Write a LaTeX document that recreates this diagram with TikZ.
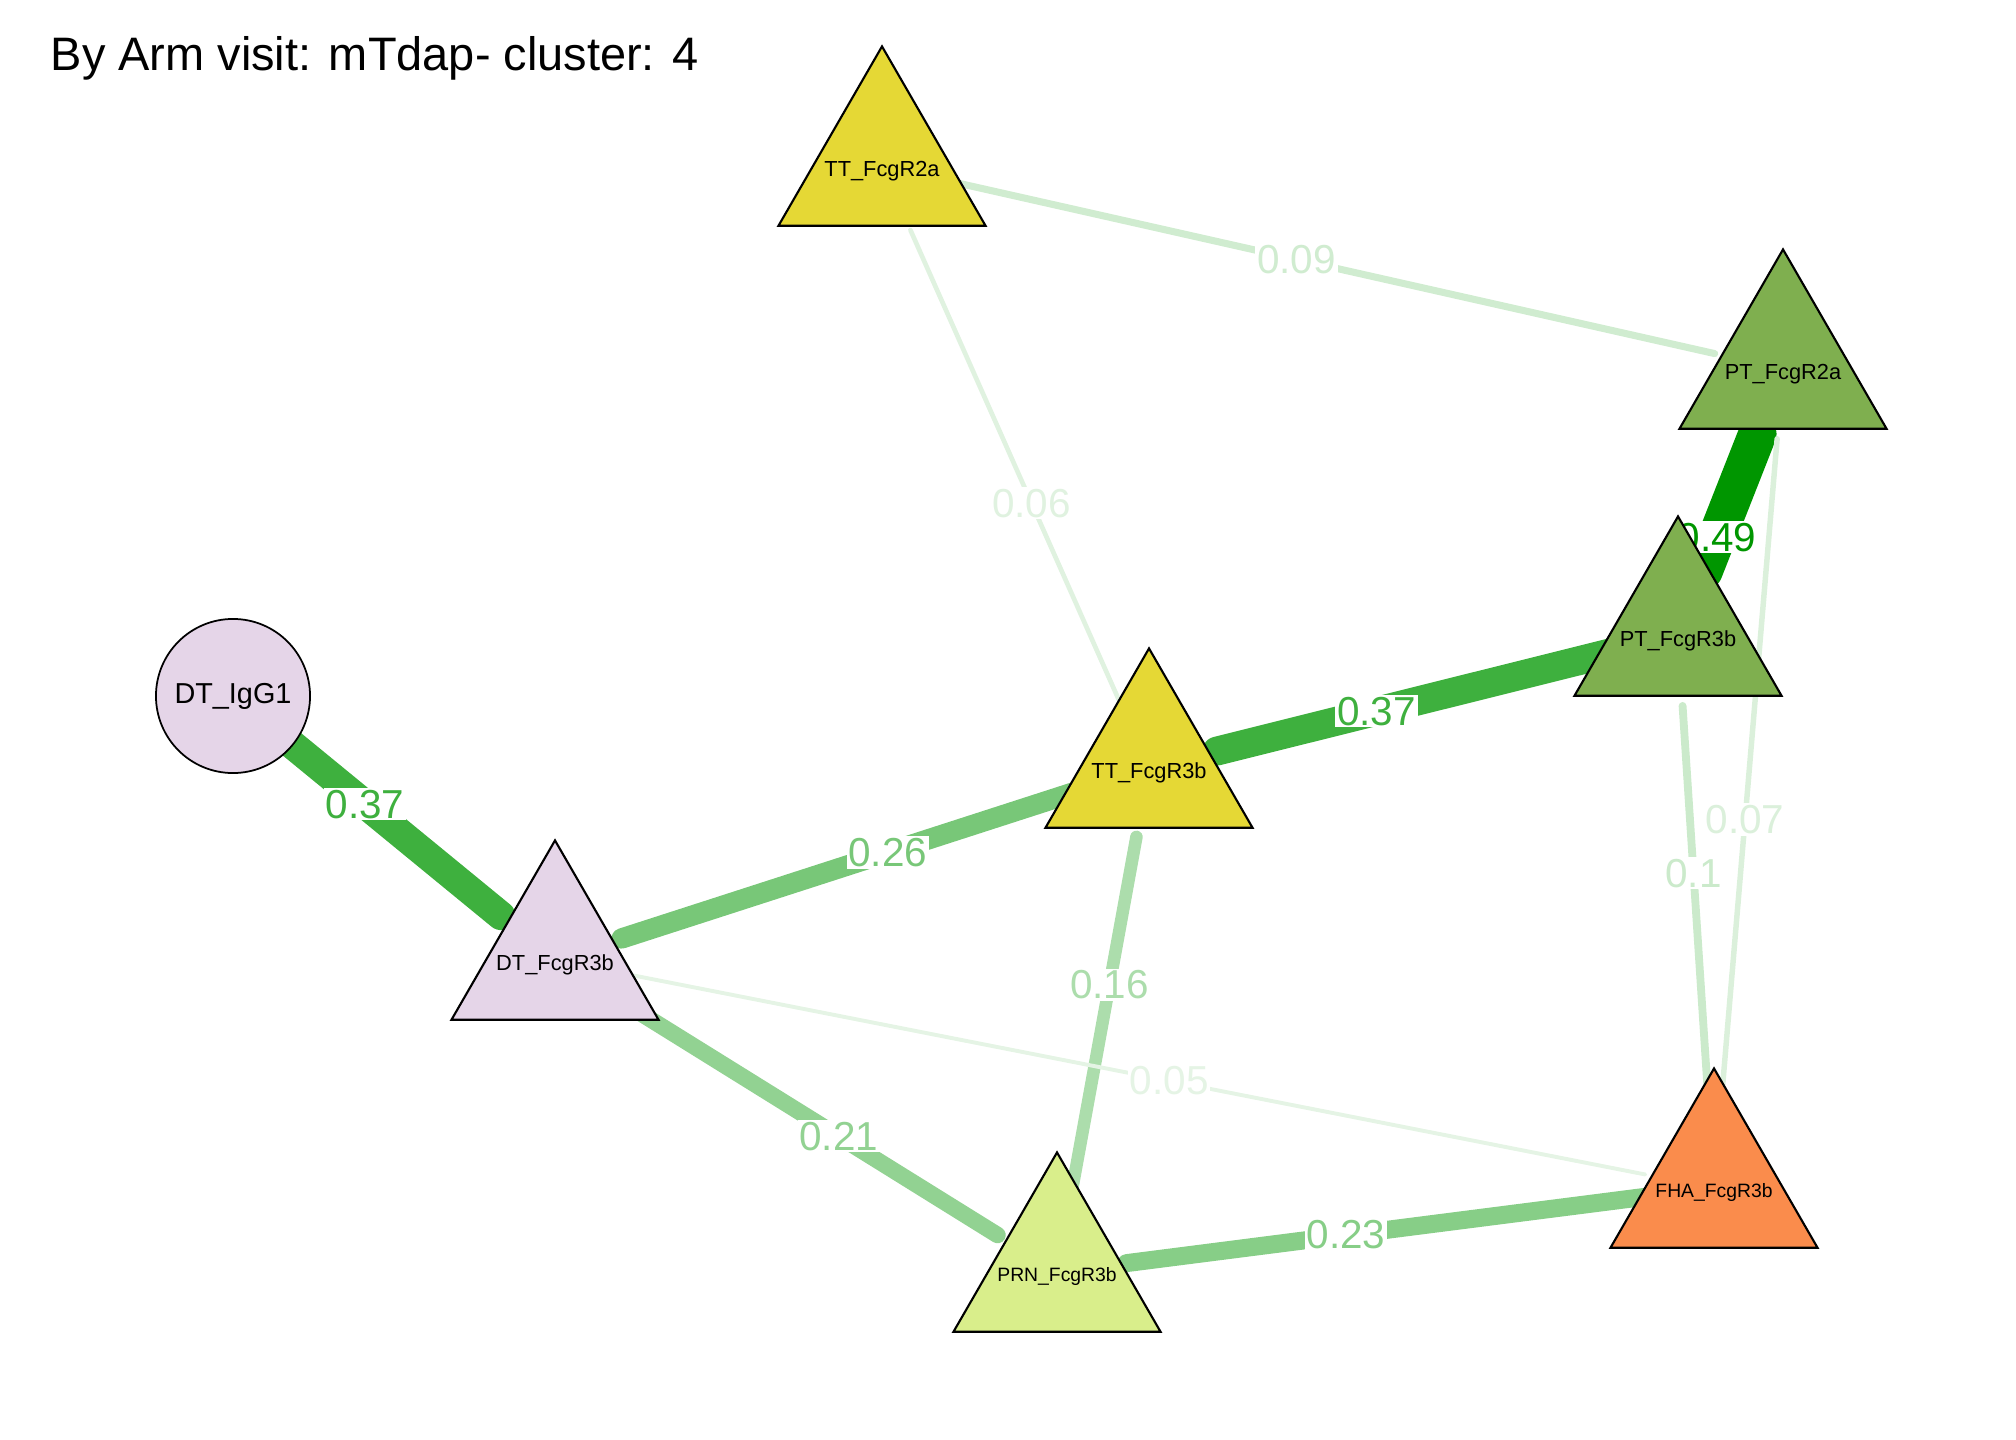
\documentclass[tikz,border=0pt]{standalone}
\usepackage{fontspec}
\setmainfont{Liberation Sans}
\usetikzlibrary{shapes.geometric,backgrounds}

\definecolor{egreen}{RGB}{0,150,0}
\definecolor{ttcol}{RGB}{229,216,53}
\definecolor{ptcol}{RGB}{127,175,79}
\definecolor{dtcol}{RGB}{229,213,232}
\definecolor{prncol}{RGB}{217,238,139}
\definecolor{fhacol}{RGB}{250,140,76}

\tikzset{
  tri/.style={regular polygon, regular polygon sides=3, minimum size=2.39cm, inner sep=0pt,
    draw=black, line width=0.6pt},
  tlab/.style={inner sep=0pt, yshift=-1.4pt, font=\fontsize{6.2}{7}\selectfont},
  slab/.style={inner sep=0pt, yshift=-1.4pt, font=\fontsize{5.5}{7}\selectfont},
  ring/.style={circle, minimum size=1.54cm, inner sep=0pt, draw=black, line width=0.5pt,
    font=\fontsize{8.2}{9}\selectfont},
  link/.style={line width=#1*0.109pt, draw=egreen!#1!white, line cap=round,
    shorten <=0.7cm, shorten >=0.7cm, nodes={text=egreen!#1!white}},
  elab/.style={fill=white, inner sep=0.5pt, font=\fontsize{11.5}{13}\selectfont},
}

\begin{document}
\begin{tikzpicture}[x=0.01cm, y=-0.01cm]
\path[use as bounding box] (0,0) rectangle (2016,1440);

% title
\node[anchor=base west, inner sep=0pt, font=\fontsize{13.35}{16}\selectfont] (title) at (50,71) {By Arm visit: mTdap- cluster: 4};

% vertices
\node[ring, fill=dtcol] (igg1) at (233,696) {DT\_IgG1};
\node[tri, fill=dtcol, label={[tlab]center:DT\_FcgR3b}] (dt3b) at (555,960) {};
\node[tri, fill=ttcol, label={[tlab]center:TT\_FcgR2a}] (tt2a) at (882,166) {};
\node[tri, fill=ttcol, label={[tlab]center:TT\_FcgR3b}] (tt3b) at (1149,768) {};
\node[tri, fill=ptcol, label={[tlab]center:PT\_FcgR2a}] (pt2a) at (1783,369) {};
\node[tri, fill=ptcol, label={[tlab]center:PT\_FcgR3b}] (pt3b) at (1678,636) {};
\node[tri, fill=prncol, label={[slab]center:PRN\_FcgR3b}] (prn3b) at (1057,1272) {};
\node[tri, fill=fhacol, label={[slab]center:FHA\_FcgR3b}] (fha3b) at (1714,1188) {};

% edges
\begin{pgfonlayer}{background}
\draw[link=75.5] (igg1.center) -- node[elab, pos=.41] {0.37} (dt3b.center);
\draw[link=53.1] (dt3b.center) -- node[elab, pos=.56] {0.26} (tt3b.center);
\draw[link=75.5] (tt3b.center) -- node[elab, pos=.43] {0.37} (pt3b.center);
\draw[link=100] (pt3b.center) -- node[elab, pos=.37] {0.49} (pt2a.center);
\draw[link=18.4] (tt2a.center) -- node[elab, pos=.46] {0.09} (pt2a.center);
\draw[link=12.2] (tt2a.center) -- node[elab, pos=.56] {0.06} (tt3b.center);
\draw[link=32.7] (tt3b.center) -- node[elab, pos=.43] {0.16} (prn3b.center);
\draw[link=42.9] (dt3b.center) -- node[elab, pos=.565] {0.21} (prn3b.center);
\draw[link=10.2] (dt3b.center) -- node[elab, pos=.53] {0.05} (fha3b.center);
\draw[link=46.9] (prn3b.center) -- node[elab, pos=.44] {0.23} (fha3b.center);
\draw[link=20.4] (pt3b.center) -- node[elab, pos=.43] {0.1} (fha3b.center);
\draw[link=14.3] (pt2a.center) -- node[elab, pos=.55] {0.07} (fha3b.center);
\end{pgfonlayer}
\end{tikzpicture}
\end{document}
